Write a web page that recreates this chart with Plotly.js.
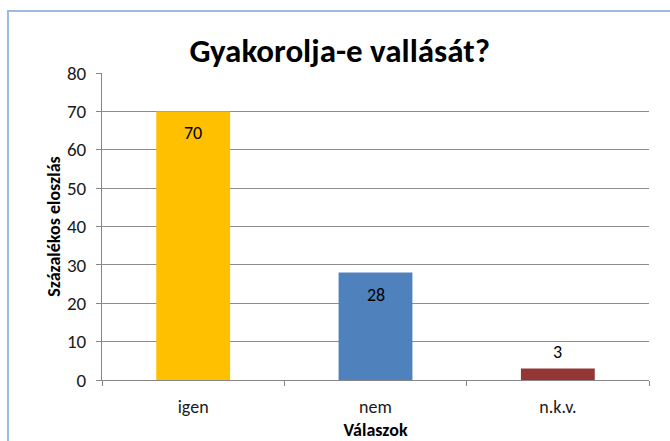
<!DOCTYPE html>
<html>
<head>
<meta charset="utf-8">
<script src="https://cdn.plot.ly/plotly-3.0.1.min.js"></script>
<style>
html,body{margin:0;padding:0;overflow:hidden;background:#fff;}
#wrap{position:relative;width:670px;height:441px;overflow:hidden;}
#chart{position:absolute;left:0;top:0;width:670px;height:441px;}
#frame{position:absolute;left:7px;top:10px;width:700px;height:500px;border:2px solid #9DBBE1;box-sizing:border-box;pointer-events:none;}
</style>
</head>
<body>
<div id="wrap"><div id="chart"></div><div id="frame"></div></div>
<script>
const categories = ["igen", "nem", "n.k.v."];
const values = [70, 28, 3];
const barColors = ["#FFC000", "#4F81BD", "#943634"];
const yTicks = [0, 10, 20, 30, 40, 50, 60, 70, 80];

const font = "Carlito, 'Liberation Sans Narrow', 'Open Sans', sans-serif";

const labels = categories.map((c, i) => {
  const inside = values[i] >= 10;
  return {
    x: c, y: values[i], xref: "x", yref: "y",
    text: String(values[i]), showarrow: false,
    yanchor: inside ? "middle" : "bottom",
    yshift: inside ? -22 : 3,
    font: {family: font, size: 18, color: "#000"}
  };
});

Plotly.newPlot("chart", [{
  type: "bar",
  x: categories,
  y: values,
  marker: {color: barColors},
  cliponaxis: false,
  hoverinfo: "none"
}], {
  width: 670, height: 441,
  margin: {l: 102, r: 21, t: 73, b: 61},
  paper_bgcolor: "rgba(0,0,0,0)",
  plot_bgcolor: "#fff",
  bargap: 0.595,
  showlegend: false,
  annotations: labels,
  title: {text: "<b>Gyakorolja-e vallását?</b>", font: {family: font, size: 33, color: "#000"}, x: 0.507, xanchor: "center", y: 0.885, yanchor: "middle"},
  xaxis: {
    type: "category",
    showline: true, linecolor: "#868686", linewidth: 1,
    ticks: "outside", ticklen: 5, tickcolor: "#868686", tickson: "boundaries",
    ticklabelstandoff: 10,
    tickfont: {family: font, size: 18, color: "#1a1a1a"},
    title: {text: "<b>Válaszok</b>", font: {family: font, size: 18, color: "#000"}, standoff: 7},
    showgrid: false, zeroline: false
  },
  yaxis: {
    range: [0, 80], tickvals: yTicks,
    showline: true, linecolor: "#868686", linewidth: 1,
    ticks: "outside", ticklen: 5, tickcolor: "#868686",
    ticklabelstandoff: 6,
    showgrid: true, gridcolor: "#8C8C8C", gridwidth: 1,
    zeroline: false,
    tickfont: {family: font, size: 19, color: "#1a1a1a"},
    title: {text: "<b>Százalékos eloszlás</b>", font: {family: font, size: 18, color: "#000"}, standoff: 1}
  }
}, {staticPlot: true});
</script>
</body>
</html>
